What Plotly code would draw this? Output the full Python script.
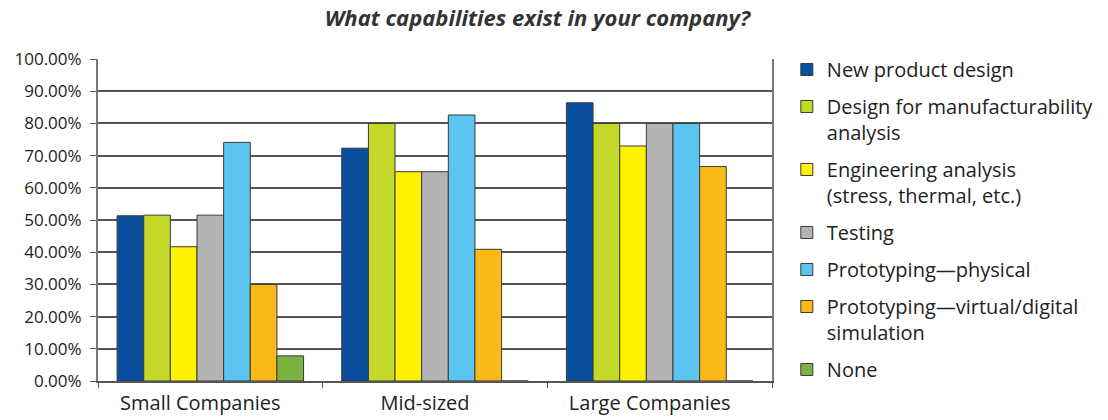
import plotly.graph_objects as go

categories = ["Small Companies", "Mid-sized", "Large Companies"]
series_names = [
    "New product design",
    "Design for manufacturability<br>analysis",
    "Engineering analysis<br>(stress, thermal, etc.)",
    "Testing",
    "Prototyping\u2014physical",
    "Prototyping\u2014virtual/digital<br>simulation",
    "None",
]
new_product_design = [0.513, 0.723, 0.864]
design_for_manufacturability = [0.515, 0.80, 0.80]
engineering_analysis = [0.417, 0.65, 0.73]
testing = [0.515, 0.65, 0.80]
prototyping_physical = [0.741, 0.826, 0.80]
prototyping_virtual = [0.30, 0.409, 0.666]
none_values = [0.078, 0.0, 0.0]

colors = ["#0a4f9e", "#c4d82a", "#fff200", "#b4b4b4", "#5bc4f0", "#fbb917", "#7cb342"]
all_values = [new_product_design, design_for_manufacturability, engineering_analysis,
              testing, prototyping_physical, prototyping_virtual, none_values]
y_ticks = [i / 10 for i in range(11)]

FONT = "Open Sans"
fig = go.Figure()
for i, (name, vals, col) in enumerate(zip(series_names, all_values, colors)):
    fig.add_trace(go.Bar(
        x=categories, y=vals, name=name, legendgroup=f"g{i}",
        marker=dict(color=col, line=dict(color="#3a3a3a", width=1)),
    ))

fig.update_layout(
    width=1108, height=420,
    margin=dict(l=98, r=336, t=59, b=39, autoexpand=False),
    paper_bgcolor="white", plot_bgcolor="white",
    barmode="group", bargap=0.17, bargroupgap=0,
    title=dict(text="<b><i>What capabilities exist in your company?</i></b>",
               x=0.485, xref="container", xanchor="center", y=0.957, yanchor="middle",
               font=dict(family=FONT, size=22, color="#333333")),
    font=dict(family=FONT, color="#222222"),
    legend=dict(x=1.022, xanchor="left", y=1.028, yanchor="top",
                font=dict(family=FONT, size=20, color="#222222"),
                valign="top", tracegroupgap=8, bgcolor="rgba(0,0,0,0)",
                maxheight=400),
    showlegend=True,
)
fig.update_xaxes(
    showline=True, linecolor="#555555", linewidth=2,
    ticks="outside", tickson="boundaries", ticklen=5, tickcolor="#555555",
    tickfont=dict(family=FONT, size=20, color="#222222"),
    ticklabelshift=-10, ticklabelstandoff=3,
    mirror=False, showgrid=False,
)
fig.update_yaxes(
    range=[0, 1.0], tickvals=y_ticks, tickformat=".2%",
    showline=True, linecolor="#777777", linewidth=2, mirror=True,
    ticks="outside", ticklen=6, tickcolor="#555555",
    showgrid=True, gridcolor="#555555", gridwidth=1.5,
    tickfont=dict(family=FONT, size=17, color="#222222"),
    ticklabelstandoff=5,
    zeroline=False,
)
fig.write_html("out.html")
